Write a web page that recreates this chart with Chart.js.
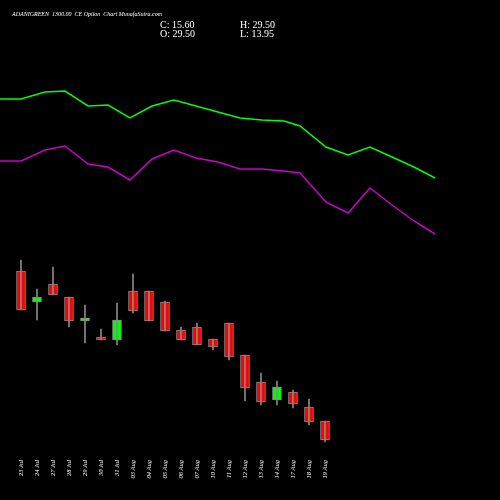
<!DOCTYPE html>
<html>
<head>
<meta charset="utf-8">
<script src="https://cdn.jsdelivr.net/npm/chart.js@4"></script>
<style>
  html, body { margin: 0; padding: 0; background: #000; }
  #wrap { width: 500px; height: 500px; }
</style>
</head>
<body>
<div id="wrap"><canvas id="chart"></canvas></div>
<script>
// Data (price units)
const dates = ["23 Jul", "24 Jul", "27 Jul", "28 Jul", "29 Jul", "30 Jul", "31 Jul", "03 Aug", "04 Aug", "05 Aug",
  "06 Aug", "07 Aug", "10 Aug", "11 Aug", "12 Aug", "13 Aug", "14 Aug", "17 Aug", "18 Aug", "19 Aug"];
const opens  = [22.9, 19.8, 21.6, 20.3, 17.9, 16.3, 16.0, 20.9, 20.9, 19.8, 17.0, 17.3, 16.1, 17.7, 14.5, 11.8, 10.0, 10.8, 9.3, 7.9];
const closes = [19.0, 20.3, 20.5, 17.9, 18.2, 16.0, 18.0, 18.9, 17.9, 16.9, 16.0, 15.5, 15.3, 14.3, 11.2, 9.8, 11.3, 9.6, 7.8, 6.0];
const highs  = [24.0, 21.1, 23.3, 20.3, 19.5, 17.1, 19.7, 22.6, 20.9, 19.9, 17.3, 17.7, 16.1, 17.7, 14.5, 12.7, 11.9, 11.0, 10.1, 7.9];
const lows   = [19.0, 18.0, 20.5, 17.3, 15.7, 16.0, 15.5, 18.7, 17.9, 16.9, 16.0, 15.5, 15.0, 14.0, 9.9, 9.5, 9.5, 9.2, 7.5, 5.8];

// Indicator lines: position in trading-day units, value
const lineX = [-1.31, 0, 1.5, 2.75, 4.19, 5.44, 6.81, 8.19, 9.56, 10.94, 12.31, 13.69, 15.06, 16.44, 17.44, 19.06, 20.44, 21.81, 23.19, 24.56, 25.88];
const upperLine = [40.1, 40.1, 40.8, 40.9, 39.4, 39.5, 38.2, 39.4, 40.0, 39.4, 38.8, 38.2, 38.0, 37.9, 37.4, 35.3, 34.5, 35.3, 34.3, 33.3, 32.2];
const lowerLine = [33.9, 33.9, 35.0, 35.4, 33.6, 33.3, 32.0, 34.1, 35.0, 34.2, 33.8, 33.1, 33.1, 32.9, 32.7, 29.8, 28.7, 31.2, 29.5, 27.9, 26.6];

const idx = dates.map((_, i) => i);
const bodyColor = idx.map(i => closes[i] >= opens[i] ? "#00ff00" : "#ff0000");

const textPlugin = {
  id: "texts",
  afterDraw(chart) {
    const ctx = chart.ctx;
    ctx.save();
    ctx.fillStyle = "#fff";
    ctx.font = "italic 6px 'Liberation Serif', serif";
    ctx.fillText("ADANIGREEN  1300.00  CE Option  Chart MunafaSutra.com", 12, 16);
    ctx.font = "10px 'Liberation Serif', serif";
    ctx.fillText("C: 15.60", 160, 28);
    ctx.fillText("O: 29.50", 160, 37);
    ctx.fillText("H: 29.50", 240, 28);
    ctx.fillText("L: 13.95", 240, 37);
    ctx.restore();
  }
};

new Chart(document.getElementById("chart"), {
  data: {
    datasets: [
      {
        type: "line",
        data: lineX.map((x, i) => ({ x, y: upperLine[i] })),
        borderColor: "#00ff00", borderWidth: 1.5, pointRadius: 0, tension: 0,
      },
      {
        type: "line",
        data: lineX.map((x, i) => ({ x, y: lowerLine[i] })),
        borderColor: "#cc00cc", borderWidth: 1.5, pointRadius: 0, tension: 0,
      },
      {
        type: "bar",
        data: idx.map(i => ({ x: i, y: [lows[i], highs[i]] })),
        backgroundColor: "#888", barThickness: 1, grouped: false,
      },
      {
        type: "bar",
        data: idx.map(i => ({ x: i, y: [opens[i], closes[i]] })),
        backgroundColor: bodyColor, borderColor: "#888", borderWidth: 1,
        borderSkipped: false, barThickness: 9, grouped: false,
      },
    ],
  },
  options: {
    responsive: true,
    maintainAspectRatio: false,
    animation: false,
    layout: { padding: 0 },
    plugins: { legend: { display: false }, tooltip: { enabled: false } },
    scales: {
      x: {
        type: "linear",
        offset: false,
        min: -1.3125, max: 29.94,
        grid: { display: false }, border: { display: false },
        afterFit: (s) => { s.height = 50; },
        afterBuildTicks: (s) => { s.ticks = idx.map(v => ({ value: v })); },
        ticks: {
          autoSkip: false, minRotation: 90, maxRotation: 90, padding: 2,
          color: "#fff", font: { size: 6.5, style: "italic", family: "'Liberation Serif', serif" },
          callback: (v) => dates[v] ?? "",
        },
      },
      y: { display: false, min: 5, max: 50 },
    },
  },
  plugins: [textPlugin],
});
</script>
</body>
</html>
